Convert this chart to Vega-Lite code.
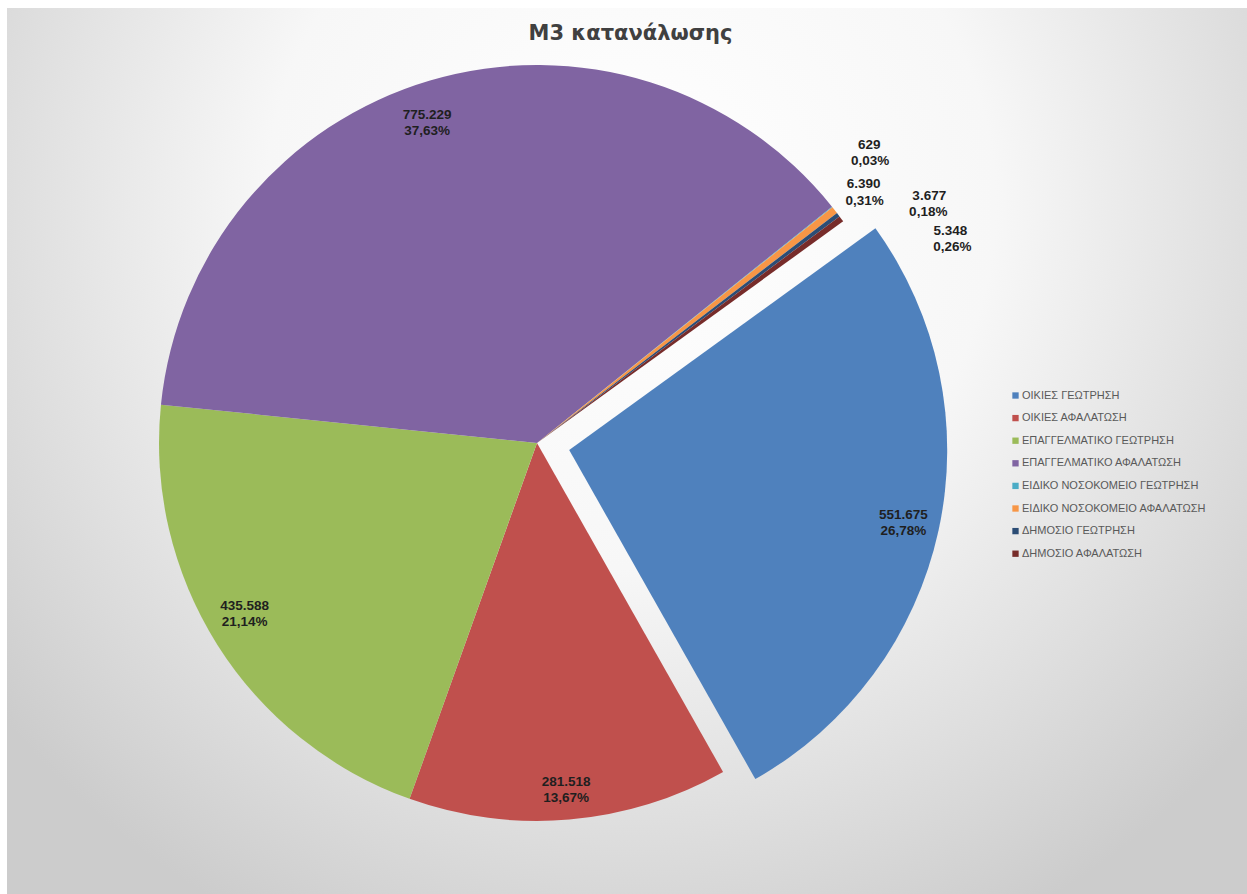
{
  "$schema": "https://vega.github.io/schema/vega-lite/v6.json",
  "width": 1247,
  "height": 894,
  "autosize": {"type": "fit", "contains": "padding"},
  "padding": {"left": 7, "top": 8, "right": -7, "bottom": -5},
  "background": "#ffffff",
  "title": {"text": "M3 κατανάλωσης", "font": "DejaVu Sans", "fontSize": 21, "fontWeight": "bold", "color": "#404040", "anchor": "middle", "offset": -36},
  "data": {"values": [
    {"name": "ΟΙΚΙΕΣ ΓΕΩΤΡΗΣΗ", "value": 551675, "pct": 0.2678},
    {"name": "ΟΙΚΙΕΣ ΑΦΑΛΑΤΩΣΗ", "value": 281518, "pct": 0.1367},
    {"name": "ΕΠΑΓΓΕΛΜΑΤΙΚΟ ΓΕΩΤΡΗΣΗ", "value": 435588, "pct": 0.2114},
    {"name": "ΕΠΑΓΓΕΛΜΑΤΙΚΟ ΑΦΑΛΑΤΩΣΗ", "value": 775229, "pct": 0.3763},
    {"name": "ΕΙΔΙΚΟ ΝΟΣΟΚΟΜΕΙΟ ΓΕΩΤΡΗΣΗ", "value": 629, "pct": 0.0003},
    {"name": "ΕΙΔΙΚΟ ΝΟΣΟΚΟΜΕΙΟ ΑΦΑΛΑΤΩΣΗ", "value": 6390, "pct": 0.0031},
    {"name": "ΔΗΜΟΣΙΟ ΓΕΩΤΡΗΣΗ", "value": 3677, "pct": 0.0018},
    {"name": "ΔΗΜΟΣΙΟ ΑΦΑΛΑΤΩΣΗ", "value": 5348, "pct": 0.0026}
  ]},
  "transform": [{"stack": "value", "groupby": [], "as": ["v0", "v1"]}],
  "layer": [
    {
      "data": {"values": [{}]},
      "mark": {"type": "rect", "fill": {"gradient": "radial", "x1": 0.5, "y1": 0.3, "r1": 0, "x2": 0.5, "y2": 0.3, "r2": 0.65,
               "stops": [{"offset": 0, "color": "#ffffff"}, {"offset": 0.45, "color": "#f7f7f7"}, {"offset": 1, "color": "#cccccc"}]}},
      "encoding": {}
    },
    {
      "transform": [{"filter": "datum.name != 'ΟΙΚΙΕΣ ΓΕΩΤΡΗΣΗ'"}],
      "mark": {"type": "arc", "outerRadius": 378, "xOffset": -93.5, "yOffset": -10.5},
      "encoding": {
        "theta": {"field": "v0", "type": "quantitative", "scale": {"range": [0.9442, 7.2274], "zero": true, "nice": false}},
        "theta2": {"field": "v1"},
        "color": {"field": "name", "type": "nominal",
          "scale": {"domain": ["ΟΙΚΙΕΣ ΓΕΩΤΡΗΣΗ", "ΟΙΚΙΕΣ ΑΦΑΛΑΤΩΣΗ", "ΕΠΑΓΓΕΛΜΑΤΙΚΟ ΓΕΩΤΡΗΣΗ", "ΕΠΑΓΓΕΛΜΑΤΙΚΟ ΑΦΑΛΑΤΩΣΗ", "ΕΙΔΙΚΟ ΝΟΣΟΚΟΜΕΙΟ ΓΕΩΤΡΗΣΗ", "ΕΙΔΙΚΟ ΝΟΣΟΚΟΜΕΙΟ ΑΦΑΛΑΤΩΣΗ", "ΔΗΜΟΣΙΟ ΓΕΩΤΡΗΣΗ", "ΔΗΜΟΣΙΟ ΑΦΑΛΑΤΩΣΗ"],
                    "range": ["#4F81BD", "#C0504D", "#9BBB59", "#8064A2", "#4BACC6", "#F79646", "#2C4D75", "#772C2A"]},
          "legend": {"orient": "none", "legendX": 1003, "legendY": 382, "title": null, "symbolType": "square", "symbolSize": 40, "symbolStrokeWidth": 0, "labelFontSize": 11, "labelFont": "Liberation Sans", "labelColor": "#595959", "rowPadding": 10.6, "labelOffset": 1, "labelLimit": 300}}
      }
    },
    {
      "transform": [{"filter": "datum.name == 'ΟΙΚΙΕΣ ΓΕΩΤΡΗΣΗ'"}],
      "mark": {"type": "arc", "outerRadius": 378, "xOffset": -61.3, "yOffset": -3.5},
      "encoding": {
        "theta": {"field": "v0", "type": "quantitative"},
        "theta2": {"field": "v1"},
        "color": {"field": "name", "type": "nominal"}
      }
    },
    {
      "mark": {"type": "text", "radius": 342, "xOffset": -93.5, "yOffset": -10.5, "dx": -13, "dy": 0},
      "encoding": {
        "theta": {"field": "value", "type": "quantitative", "stack": true},
        "order": {"field": "v0", "type": "quantitative"},
        "text": {"condition": {"test": "datum.name == 'ΕΠΑΓΓΕΛΜΑΤΙΚΟ ΑΦΑΛΑΤΩΣΗ'", "field": "value", "type": "quantitative", "format": ",.0f"}, "value": ""}
      }
    },
    {
      "mark": {"type": "text", "radius": 342, "xOffset": -93.5, "yOffset": -10.5, "dx": -13, "dy": 16},
      "encoding": {
        "theta": {"field": "value", "type": "quantitative", "stack": true},
        "order": {"field": "v0", "type": "quantitative"},
        "text": {"condition": {"test": "datum.name == 'ΕΠΑΓΓΕΛΜΑΤΙΚΟ ΑΦΑΛΑΤΩΣΗ'", "field": "pct", "type": "quantitative", "format": ".2%"}, "value": ""}
      }
    },
    {
      "mark": {"type": "text", "radius": 342, "xOffset": -93.5, "yOffset": -10.5, "dx": -3, "dy": -19},
      "encoding": {
        "theta": {"field": "value", "type": "quantitative", "stack": true},
        "order": {"field": "v0", "type": "quantitative"},
        "text": {"condition": {"test": "datum.name == 'ΕΠΑΓΓΕΛΜΑΤΙΚΟ ΓΕΩΤΡΗΣΗ'", "field": "value", "type": "quantitative", "format": ",.0f"}, "value": ""}
      }
    },
    {
      "mark": {"type": "text", "radius": 342, "xOffset": -93.5, "yOffset": -10.5, "dx": -3, "dy": -3},
      "encoding": {
        "theta": {"field": "value", "type": "quantitative", "stack": true},
        "order": {"field": "v0", "type": "quantitative"},
        "text": {"condition": {"test": "datum.name == 'ΕΠΑΓΓΕΛΜΑΤΙΚΟ ΓΕΩΤΡΗΣΗ'", "field": "pct", "type": "quantitative", "format": ".2%"}, "value": ""}
      }
    },
    {
      "mark": {"type": "text", "radius": 342, "xOffset": -93.5, "yOffset": -10.5, "dx": 0, "dy": -2},
      "encoding": {
        "theta": {"field": "value", "type": "quantitative", "stack": true},
        "order": {"field": "v0", "type": "quantitative"},
        "text": {"condition": {"test": "datum.name == 'ΟΙΚΙΕΣ ΑΦΑΛΑΤΩΣΗ'", "field": "value", "type": "quantitative", "format": ",.0f"}, "value": ""}
      }
    },
    {
      "mark": {"type": "text", "radius": 342, "xOffset": -93.5, "yOffset": -10.5, "dx": 0, "dy": 14},
      "encoding": {
        "theta": {"field": "value", "type": "quantitative", "stack": true},
        "order": {"field": "v0", "type": "quantitative"},
        "text": {"condition": {"test": "datum.name == 'ΟΙΚΙΕΣ ΑΦΑΛΑΤΩΣΗ'", "field": "pct", "type": "quantitative", "format": ".2%"}, "value": ""}
      }
    },
    {
      "mark": {"type": "text", "radius": 342, "xOffset": -61.3, "yOffset": -3.5, "dy": -8},
      "encoding": {
        "theta": {"field": "value", "type": "quantitative", "stack": true},
        "order": {"field": "v0", "type": "quantitative"},
        "text": {"condition": {"test": "datum.name == 'ΟΙΚΙΕΣ ΓΕΩΤΡΗΣΗ'", "field": "value", "type": "quantitative", "format": ",.0f"}, "value": ""}
      }
    },
    {
      "mark": {"type": "text", "radius": 342, "xOffset": -61.3, "yOffset": -3.5, "dy": 8},
      "encoding": {
        "theta": {"field": "value", "type": "quantitative", "stack": true},
        "order": {"field": "v0", "type": "quantitative"},
        "text": {"condition": {"test": "datum.name == 'ΟΙΚΙΕΣ ΓΕΩΤΡΗΣΗ'", "field": "pct", "type": "quantitative", "format": ".2%"}, "value": ""}
      }
    },
    {
      "mark": {"type": "text", "radius": 378, "xOffset": -93.5, "yOffset": -10.5, "dx": 37, "dy": -62},
      "encoding": {
        "theta": {"field": "value", "type": "quantitative", "stack": true},
        "order": {"field": "v0", "type": "quantitative"},
        "text": {"condition": {"test": "datum.name == 'ΕΙΔΙΚΟ ΝΟΣΟΚΟΜΕΙΟ ΓΕΩΤΡΗΣΗ'", "field": "value", "type": "quantitative", "format": ",.0f"}, "value": ""}
      }
    },
    {
      "mark": {"type": "text", "radius": 378, "xOffset": -93.5, "yOffset": -10.5, "dx": 38, "dy": -46},
      "encoding": {
        "theta": {"field": "value", "type": "quantitative", "stack": true},
        "order": {"field": "v0", "type": "quantitative"},
        "text": {"condition": {"test": "datum.name == 'ΕΙΔΙΚΟ ΝΟΣΟΚΟΜΕΙΟ ΓΕΩΤΡΗΣΗ'", "field": "pct", "type": "quantitative", "format": ".2%"}, "value": ""}
      }
    },
    {
      "mark": {"type": "text", "radius": 378, "xOffset": -93.5, "yOffset": -10.5, "dx": 29, "dy": -26},
      "encoding": {
        "theta": {"field": "value", "type": "quantitative", "stack": true},
        "order": {"field": "v0", "type": "quantitative"},
        "text": {"condition": {"test": "datum.name == 'ΕΙΔΙΚΟ ΝΟΣΟΚΟΜΕΙΟ ΑΦΑΛΑΤΩΣΗ'", "field": "value", "type": "quantitative", "format": ",.0f"}, "value": ""}
      }
    },
    {
      "mark": {"type": "text", "radius": 378, "xOffset": -93.5, "yOffset": -10.5, "dx": 30, "dy": -9},
      "encoding": {
        "theta": {"field": "value", "type": "quantitative", "stack": true},
        "order": {"field": "v0", "type": "quantitative"},
        "text": {"condition": {"test": "datum.name == 'ΕΙΔΙΚΟ ΝΟΣΟΚΟΜΕΙΟ ΑΦΑΛΑΤΩΣΗ'", "field": "pct", "type": "quantitative", "format": ".2%"}, "value": ""}
      }
    },
    {
      "mark": {"type": "text", "radius": 378, "xOffset": -93.5, "yOffset": -10.5, "dx": 91, "dy": -19},
      "encoding": {
        "theta": {"field": "value", "type": "quantitative", "stack": true},
        "order": {"field": "v0", "type": "quantitative"},
        "text": {"condition": {"test": "datum.name == 'ΔΗΜΟΣΙΟ ΓΕΩΤΡΗΣΗ'", "field": "value", "type": "quantitative", "format": ",.0f"}, "value": ""}
      }
    },
    {
      "mark": {"type": "text", "radius": 378, "xOffset": -93.5, "yOffset": -10.5, "dx": 90, "dy": -2.5},
      "encoding": {
        "theta": {"field": "value", "type": "quantitative", "stack": true},
        "order": {"field": "v0", "type": "quantitative"},
        "text": {"condition": {"test": "datum.name == 'ΔΗΜΟΣΙΟ ΓΕΩΤΡΗΣΗ'", "field": "pct", "type": "quantitative", "format": ".2%"}, "value": ""}
      }
    },
    {
      "mark": {"type": "text", "radius": 378, "xOffset": -93.5, "yOffset": -10.5, "dx": 109, "dy": 12},
      "encoding": {
        "theta": {"field": "value", "type": "quantitative", "stack": true},
        "order": {"field": "v0", "type": "quantitative"},
        "text": {"condition": {"test": "datum.name == 'ΔΗΜΟΣΙΟ ΑΦΑΛΑΤΩΣΗ'", "field": "value", "type": "quantitative", "format": ",.0f"}, "value": ""}
      }
    },
    {
      "mark": {"type": "text", "radius": 378, "xOffset": -93.5, "yOffset": -10.5, "dx": 111, "dy": 28},
      "encoding": {
        "theta": {"field": "value", "type": "quantitative", "stack": true},
        "order": {"field": "v0", "type": "quantitative"},
        "text": {"condition": {"test": "datum.name == 'ΔΗΜΟΣΙΟ ΑΦΑΛΑΤΩΣΗ'", "field": "pct", "type": "quantitative", "format": ".2%"}, "value": ""}
      }
    }
  ],
  "config": {
    "locale": {"number": {"decimal": ",", "thousands": ".", "grouping": [3], "currency": ["", " €"]}},
    "view": {"stroke": null},
    "text": {"font": "Liberation Sans", "fontSize": 13.5, "fontWeight": "bold", "color": "#1f1f1f", "align": "center", "baseline": "middle"},
    "arc": {"strokeWidth": 0}
  }
}
